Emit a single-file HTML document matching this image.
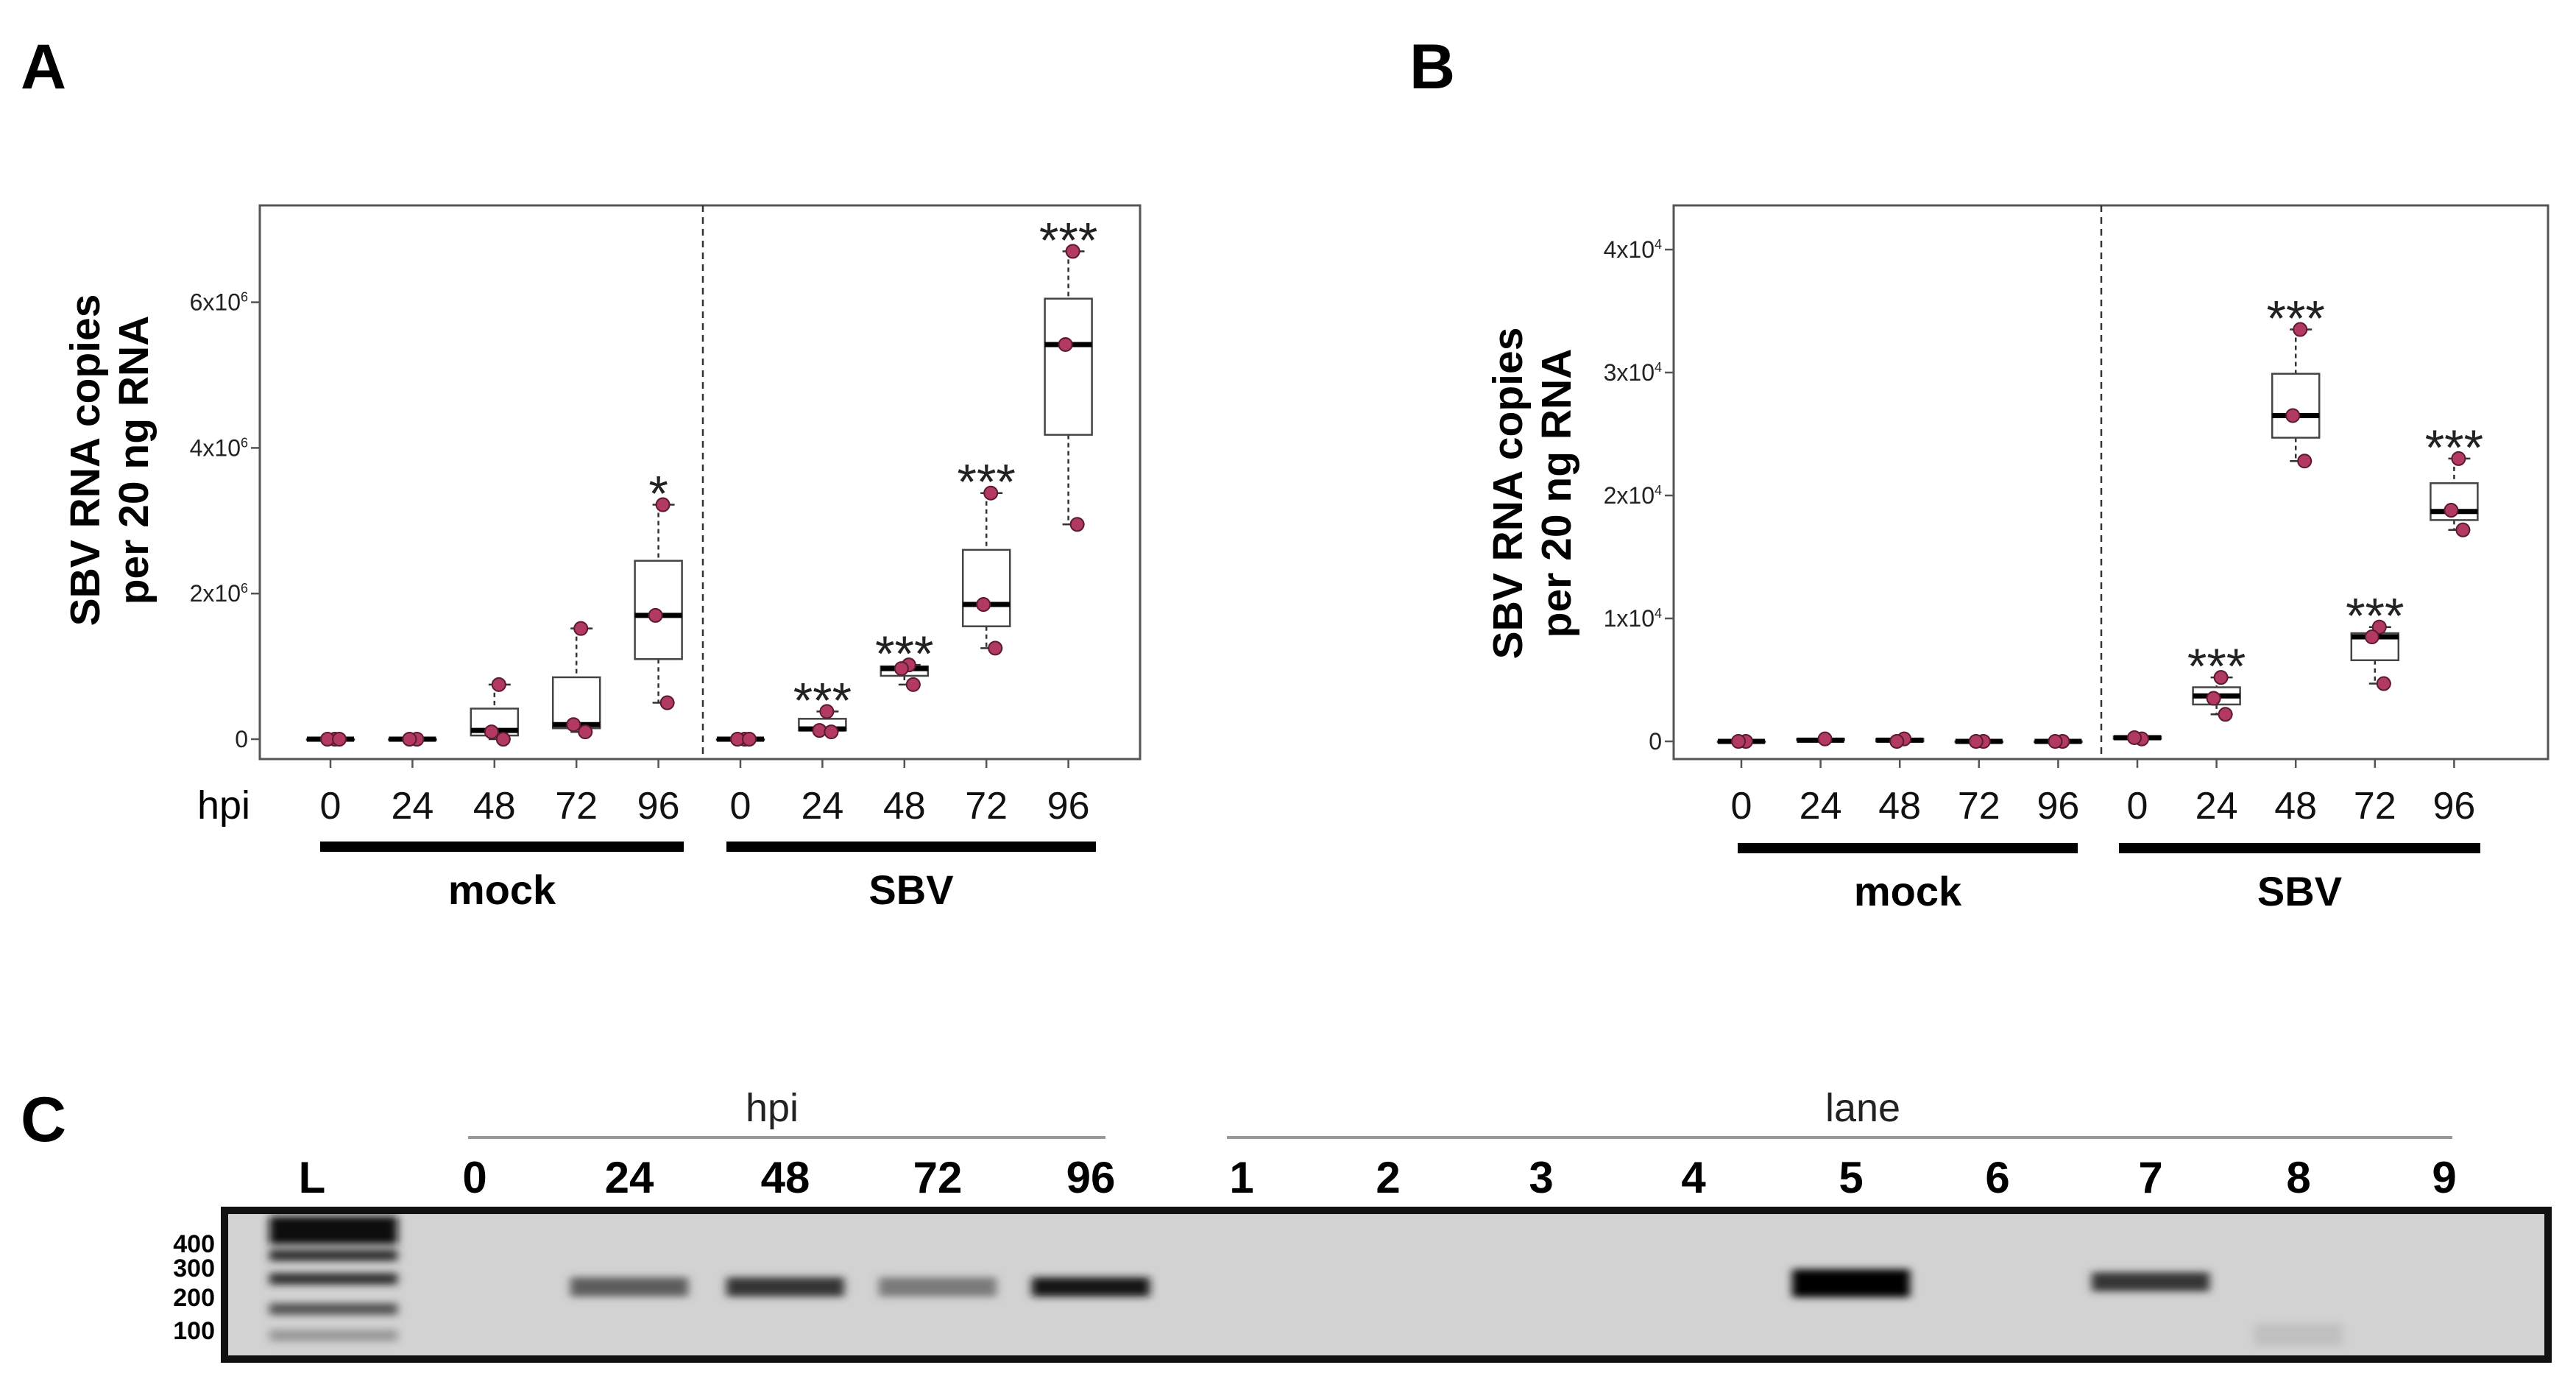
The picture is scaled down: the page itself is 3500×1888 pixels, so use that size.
<!DOCTYPE html>
<html><head><meta charset="utf-8"><style>
html,body{margin:0;padding:0;background:#fff}
svg{display:block}
text{font-family:"Liberation Sans",sans-serif}
</style></head><body>
<svg id="fig" width="3500" height="1888" viewBox="0 0 3500 1888" xmlns="http://www.w3.org/2000/svg">
<defs>
<filter id="blur" x="-20%" y="-100%" width="140%" height="300%"><feGaussianBlur stdDeviation="6 5"/></filter>
</defs>
<text x="28" y="120" font-size="86" font-weight="bold">A</text>
<text x="1915" y="120" font-size="86" font-weight="bold">B</text>
<text x="28" y="1550" font-size="86" font-weight="bold">C</text>
<g id="pa"></g>
<g id="pb"></g>
<g id="pc"></g>
</svg>
<script>
const NS="http://www.w3.org/2000/svg";
// ---- data ----
const categories=["0","24","48","72","96","0","24","48","72","96"];
const groups=["mock","SBV"];
// Panel A (x10^6)
const aPoints=[[0,0,0],[0,0],[0.75,0.1,0.0],[1.52,0.2,0.1],[3.22,1.7,0.5],[0,0,0],[0.38,0.12,0.1],[1.02,0.97,0.75],[3.38,1.85,1.25],[6.7,5.42,2.95]];
const aQ1=[0,0,0.05,0.15,1.1,0,0.12,0.87,1.55,4.18];
const aMed=[0,0,0.12,0.2,1.7,0,0.14,0.97,1.85,5.42];
const aQ3=[0,0,0.42,0.85,2.45,0,0.28,1.0,2.6,6.05];
const aStars=["","","","","*","","***","***","***","***"];
const aTicks=[0,2,4,6];
const aTickLabels=["0","2x10","4x10","6x10"];
// Panel B (x10^4)
const bPoints=[[0,0],[0.02],[0.02,0],[0,0],[0,0],[0.02,0.03],[0.52,0.35,0.22],[3.35,2.65,2.28],[0.93,0.85,0.47],[2.3,1.88,1.72]];
const bQ1=[0,0.01,0,0,0,0.02,0.3,2.47,0.66,1.8];
const bMed=[0,0.01,0.01,0,0,0.03,0.37,2.65,0.85,1.87];
const bQ3=[0,0.02,0.02,0,0,0.04,0.44,2.99,0.88,2.1];
const bStars=["","","","","","","***","***","***","***"];
const bTicks=[0,1,2,3,4];
const bTickLabels=["0","1x10","2x10","3x10","4x10"];
// Panel C gel
const laneLabels=["L","0","24","48","72","96","1","2","3","4","5","6","7","8","9"];
const bandIntensity=[0,0,0.55,0.75,0.4,0.92,0,0,0,0,1.0,0,0.75,0,0];
const ladderSizes=["400","300","200","100"];

function el(p,tag,attrs,txt){const e=document.createElementNS(NS,tag);for(const k in attrs)e.setAttribute(k,attrs[k]);if(txt!==undefined)e.textContent=txt;p.appendChild(e);return e;}

function drawBox(g,cfg,points,q1,med,q3,stars,ticks,tickLabels,exp){
  const y=v=>cfg.y0-v*cfg.ky;
  const x=i=>cfg.x0+i*cfg.step;
  const frame=el(g,'rect',{x:cfg.L,y:cfg.T,width:cfg.R-cfg.L,height:cfg.B-cfg.T,fill:'none',stroke:'#555','stroke-width':3});
  
  
  const dl=el(g,'line',{x1:cfg.div,x2:cfg.div,y1:cfg.T,y2:cfg.B,stroke:'#333','stroke-width':2.5,'stroke-dasharray':'9 7'});
  
  
  ticks.forEach((t,k)=>{
    el(g,'line',{x1:cfg.L-12,x2:cfg.L,y1:y(t),y2:y(t),stroke:'#555','stroke-width':2.5});
    const tx=el(g,'text',{x:cfg.L-16,y:y(t)+11,'font-size':32,'text-anchor':'end',fill:'#222'});
    
    
    tx.textContent=tickLabels[k];
    if(t!==0){el(tx,'tspan',{dy:-12,'font-size':18},exp);}
  });
  categories.forEach((c,i)=>{
    const cx=x(i);
    el(g,'line',{x1:cx,x2:cx,y1:cfg.B,y2:cfg.B+12,stroke:'#555','stroke-width':2.5});
    const lb=el(g,'text',{x:cx,y:cfg.labY,'font-size':52,'text-anchor':'middle',fill:'#111'},c);
    
    
    const pts=points[i];const mx=Math.max(...pts),mn=Math.min(...pts);
    const bw=64;
    const wg=el(g,'g',{});
    
    
    el(wg,'line',{x1:cx,x2:cx,y1:y(mx),y2:y(q3[i]),stroke:'#333','stroke-width':2.5,'stroke-dasharray':'6 5'});
    el(wg,'line',{x1:cx,x2:cx,y1:y(q1[i]),y2:y(mn),stroke:'#333','stroke-width':2.5,'stroke-dasharray':'6 5'});
    el(wg,'line',{x1:cx-8,x2:cx+22,y1:y(mx),y2:y(mx),stroke:'#333','stroke-width':2.5});
    el(wg,'line',{x1:cx-8,x2:cx+22,y1:y(mn),y2:y(mn),stroke:'#333','stroke-width':2.5});
    el(wg,'rect',{x:cx-bw/2,y:y(q3[i]),width:bw,height:Math.max(y(q1[i])-y(q3[i]),1),fill:'#fff',stroke:'#444','stroke-width':2.5});
    el(wg,'line',{x1:cx-bw/2,x2:cx+bw/2,y1:y(med[i]),y2:y(med[i]),stroke:'#000','stroke-width':7});
    pts.forEach((p,k)=>{
      const off=[6,-4,12][k%3];
      const dot=el(wg,'circle',{cx:cx+off,cy:y(p),r:9,fill:'#b23a62',stroke:'#5a1a30','stroke-width':2});
      
      
    });
    if(stars[i]){const st=el(g,'text',{x:cx,y:y(mx)+8,'font-size':68,'text-anchor':'middle',fill:'#222'},stars[i]);
      
      }
  });
  cfg.bars.forEach((b,k)=>{
    const r=el(g,'rect',{x:b[0],y:cfg.barY,width:b[1]-b[0],height:14,fill:'#000'});
    
    
    const t=el(g,'text',{x:(b[0]+b[1])/2,y:cfg.grpY,'font-size':56,'font-weight':'bold','text-anchor':'middle'},groups[k]);
    
    
  });
  const yt=el(g,'text',{transform:`translate(${cfg.ytx},${cfg.yty}) rotate(-90)`,'font-size':57,'font-weight':'bold','text-anchor':'middle'});
  
  
  el(yt,'tspan',{x:0,y:0},'SBV RNA copies');
  el(yt,'tspan',{x:0,y:66},'per 20 ng RNA');
}
drawBox(document.getElementById('pa'),{L:353,R:1549,T:279,B:1031,y0:1004,ky:98.9,x0:449,step:111.4,div:955,labY:1112,barY:1143,grpY:1228,bars:[[435,929],[987,1489]],ytx:135,yty:625},aPoints,aQ1,aMed,aQ3,aStars,aTicks,aTickLabels,'6');
const hpi=el(document.getElementById('pa'),'text',{x:340,y:1112,'font-size':54,'text-anchor':'end'},'hpi');


drawBox(document.getElementById('pb'),{L:2274,R:3462,T:279,B:1031,y0:1007,ky:167,x0:2366,step:107.6,div:2855,labY:1112,barY:1145,grpY:1230,bars:[[2361,2823],[2879,3370]],ytx:2068,yty:670},bPoints,bQ1,bMed,bQ3,bStars,bTicks,bTickLabels,'4');

// Panel C
(function(){
  const g=document.getElementById('pc');
  const laneX=[424,645,855,1067,1274,1482,1687,1886,2094,2301,2515,2714,2922,3123,3321];
  const h=el(g,'text',{x:1049,y:1523,'font-size':54,'text-anchor':'middle',fill:'#222'},'hpi');
  
  el(g,'line',{x1:636,x2:1502,y1:1545,y2:1545,stroke:'#999','stroke-width':4});
  const ln=el(g,'text',{x:2531,y:1523,'font-size':54,'text-anchor':'middle',fill:'#222'},'lane');
  
  el(g,'line',{x1:1667,x2:3332,y1:1545,y2:1545,stroke:'#999','stroke-width':4});
  laneLabels.forEach((l,i)=>{
    const t=el(g,'text',{x:laneX[i],y:1620,'font-size':60,'font-weight':'bold','text-anchor':'middle'},l);
    
    
  });
  el(g,'rect',{x:305,y:1644,width:3157,height:202,fill:'#d2d2d2',stroke:'#111','stroke-width':10});
  const ladderY=[1690,1723,1763,1808];
  ladderSizes.forEach((s,k)=>{
    const t=el(g,'text',{x:292,y:ladderY[k]+11,'font-size':34,'font-weight':'bold','text-anchor':'end'},s);
    
    
  });
  const lad=el(g,'g',{filter:'url(#blur)'});
  
  
  el(lad,'rect',{x:366,y:1652,width:174,height:38,fill:'#111'});
  [1705,1737,1778,1814].forEach((yy,k)=>el(lad,'rect',{x:366,y:yy-8,width:174,height:16,fill:k<2?'#333':k<3?'#555':'#999'}));
  bandIntensity.forEach((v,i)=>{
    if(!v)return;
    const c=Math.round(200-v*195);
    const b=el(g,'rect',{x:laneX[i]-80,y:i===10?1724:i===12?1728:1735,width:160,height:i===10?38:26,fill:`rgb(${c},${c},${c})`,filter:'url(#blur)'});
    
    
  });
  el(g,'rect',{x:3063,y:1798,width:120,height:30,fill:'#c0c0c0',filter:'url(#blur)'});
})();
</script>
</body></html>
